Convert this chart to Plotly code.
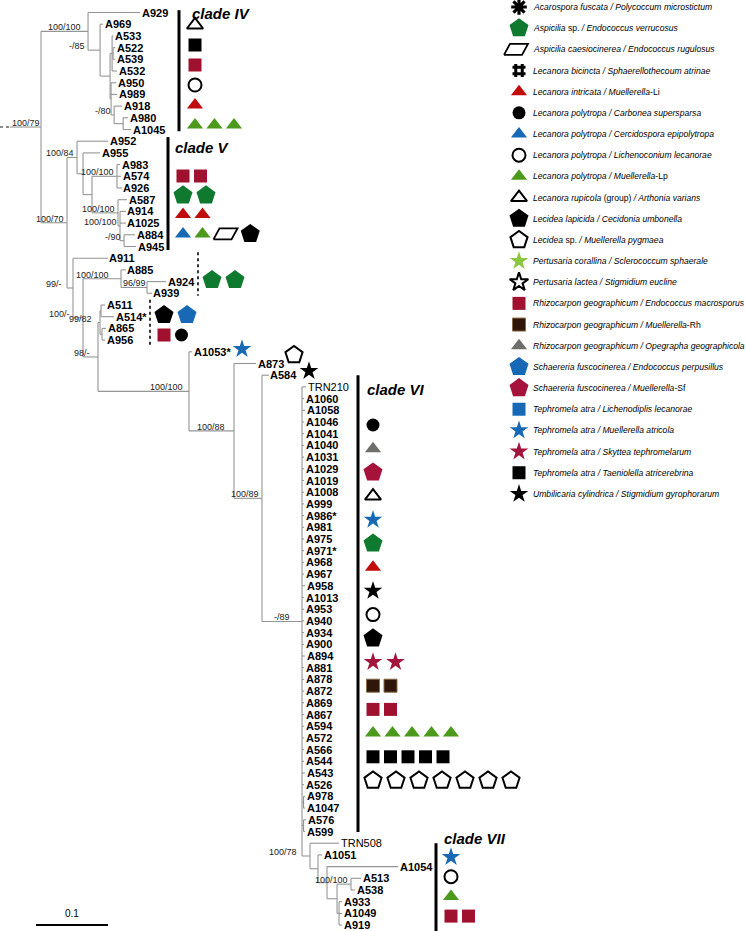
import plotly.graph_objects as go

# ============================== DATA ==============================
# Tree in Newick form: branch lengths in substitutions/site, internal node
# names are the support values (bootstrap / posterior) printed on the figure.
CLADE_IV = ("(A929:0.0722,(A969:0.0042,((A533:0.0014,(A522:0.0028,A539:0.0028):0.0014,"
            "A532:0.0069):0.0028,(A950:0.0069,A989:0.0083,(A918:0.0111,(A980:0.0069,"
            "A1045:0.0111):0.0125)-/80:0.0042):0.0014):0.0139)-/85:0.0167)100/100:0.0653")
CLADE_V = ("(A952:0.0431,(A955:0.0236,((A983:0.0042,A574:0.0056,A926:0.0069)100/100:0.0347,"
           "(A587:0.0125,(A914:0.0083,A1025:0.0083,(A884:0.0153,A945:0.0167)-/90:0.0056)"
           "100/100:0.0028)100/100:0.0361):0.0125):0.0083)100/84:0.0139")
CLADE_VI_NAMES = ["TRN210", "A1060", "A1058", "A1046", "A1041", "A1040", "A1031", "A1029",
                  "A1019", "A1008", "A999", "A986*", "A981", "A975", "A971*", "A968", "A967",
                  "A958", "A1013", "A953", "A940", "A934", "A900", "A894", "A881", "A878",
                  "A872", "A869", "A867", "A594", "A572", "A566", "A544", "A543", "A526"]
CLADE_VI_LENGTHS = [0.0056, 0.0028, 0.0042, 0.0028, 0.0028, 0.0028, 0.0028, 0.0028,
                    0.0028, 0.0028, 0.0028, 0.0028, 0.0028, 0.0028, 0.0028, 0.0028, 0.0028,
                    0.0042, 0.0028, 0.0028, 0.0028, 0.0028, 0.0028, 0.0042, 0.0028, 0.0028,
                    0.0028, 0.0028, 0.0028, 0.0028, 0.0028, 0.0028, 0.0028, 0.0042, 0.0028]
CLADE_VI_PAIRS = "(A978:0.0021,A1047:0.0021):0.0021,(A576:0.0035,A599:0.0021):0.0021"
CLADE_VII = ("(TRN508:0.0403,(A1051:0.0056,(A1054:0.0986,((A513:0.0139,A538:0.0056)"
             "100/100:0.0194,(A933:0.0042,A1049:0.0042,A919:0.0042):0.0028):0.0139)"
             ":0.0125):0.0111)100/78:0.0111")
BACKBONE = ("(A911:0.0486,((A885:0.0069,(A924:0.0264,A939:0.0069)96/99:0.0361)100/100:0.0528,"
            "(((A511:0.0056,A514*:0.0181):0.0014,(A865:0.0056,A956:0.0042):0.0028)99/82:0.0028,"
            "(A1053*:0.0042,(A873:0.0306,(A584:0.0097,({VI},{VII})-/89:0.0556)100/89:0.0389)"
            "100/88:0.0625)100/100:0.1264)98/-:0.0208)100/-:0.0139)99/-:0.0083")
SCALE_BAR_LENGTH = 0.1

REGULAR_TIPS = ["TRN210", "TRN508"]   # printed in regular (not bold) type

# host / lichenicolous fungus pairs (legend)
LEGEND_KEYS = ["ast", "pent_green", "para", "hash", "tri_red", "circ_black", "tri_blue",
               "circ_open", "tri_green", "tri_open", "pent_black", "pent_open", "star_lgreen",
               "star_open", "sq_red", "sq_brown", "tri_grey", "pent_blue", "pent_red",
               "sq_blue", "star_blue", "star_red", "sq_black", "star_black"]
LEGEND_LABELS = [
    "<i>Acarospora fuscata / Polycoccum microstictum</i>",
    "<i>Aspicilia</i> sp. <i>/ Endococcus verrucosus</i>",
    "<i>Aspicilia caesiocinerea / Endococcus rugulosus</i>",
    "<i>Lecanora bicincta / Sphaerellothecoum atrinae</i>",
    "<i>Lecanora intricata / Muellerella</i>-Li",
    "<i>Lecanora polytropa / Carbonea supersparsa</i>",
    "<i>Lecanora polytropa / Cercidospora epipolytropa</i>",
    "<i>Lecanora polytropa / Lichenoconium lecanorae</i>",
    "<i>Lecanora polytropa / Muellerella</i>-Lp",
    "<i>Lecanora rupicola</i> (group) <i>/ Arthonia varians</i>",
    "<i>Lecidea lapicida / Cecidonia umbonella</i>",
    "<i>Lecidea</i> sp. <i>/ Muellerella pygmaea</i>",
    "<i>Pertusaria corallina / Sclerococcum sphaerale</i>",
    "<i>Pertusaria lactea / Stigmidium eucline</i>",
    "<i>Rhizocarpon geographicum / Endococcus macrosporus</i>",
    "<i>Rhizocarpon geographicum / Muellerella</i>-Rh",
    "<i>Rhizocarpon geographicum / Opegrapha geographicola</i>",
    "<i>Schaereria fuscocinerea / Endococcus perpusillus</i>",
    "<i>Schaereria fuscocinerea / Muellerella</i>-Sf",
    "<i>Tephromela atra / Lichenodiplis lecanorae</i>",
    "<i>Tephromela atra / Muellerella atricola</i>",
    "<i>Tephromela atra / Skyttea tephromelarum</i>",
    "<i>Tephromela atra / Taeniolella atricerebrina</i>",
    "<i>Umbilicaria cylindrica / Stigmidium gyrophorarum</i>",
]

# host pairs recorded for each clade / group (one list per row)
HOSTS_IV = [["tri_open"], ["sq_black"], ["sq_red"], ["circ_open"], ["tri_red"],
            ["tri_green"] * 3]
HOSTS_V = [["sq_red"] * 2, ["pent_green"] * 2, ["tri_red"] * 2,
           ["tri_blue", "tri_green", "para", "pent_black"]]
HOSTS_A911 = [["pent_green"] * 2]
HOSTS_A511 = [["pent_black", "pent_blue"], ["sq_red", "circ_black"]]
HOSTS_A1053 = [["star_blue"]]
HOSTS_A873 = [["pent_open"]]
HOSTS_A584 = [["star_black"]]
HOSTS_VI = [["circ_black"], ["tri_grey"], ["pent_red"], ["tri_open"], ["star_blue"],
            ["pent_green"], ["tri_red"], ["star_black"], ["circ_open"], ["pent_black"],
            ["star_red"] * 2, ["sq_brown"] * 2, ["sq_red"] * 2, ["tri_green"] * 5,
            ["sq_black"] * 5, ["pent_open"] * 7]
HOSTS_VII = [["star_blue"], ["circ_open"], ["tri_green"], ["sq_red"] * 2]

CLADE_NAMES = ["clade IV", "clade V", "clade VI", "clade VII"]
CLADE_SPANS = [("A929", "A1045"), ("A952", "A945"), ("A911", "A939"), ("A511", "A956"),
               ("TRN210", "A599"), ("TRN508", "A919")]

# ============================== STYLE / LAYOUT ==============================
W, H = 746, 931
PX_PER_UNIT = 720.0          # 0.1 subst./site = 72 px
X_ORIGIN_PX = 10.0
Y_FIRST_PX, ROW_PX = 12.5, 11.7

TREE_COLOR = "#959595"
BLUE = "#1769b5"
SYM = {
    "ast": dict(symbol="asterisk-open", size=13, color="black", lw=3.2),
    "pent_green": dict(symbol="pentagon", size=20, color="#0f7a2f"),
    "hash": dict(symbol="hash-open", size=13, color="black", lw=3),
    "tri_red": dict(symbol="triangle-up", size=14, color="#c10c0c"),
    "circ_black": dict(symbol="circle", size=13, color="black"),
    "tri_blue": dict(symbol="triangle-up", size=14, color=BLUE),
    "circ_open": dict(symbol="circle-open", size=13, color="black", lw=2),
    "tri_green": dict(symbol="triangle-up", size=14, color="#4b9a1c"),
    "tri_open": dict(symbol="triangle-up-open", size=14, color="black", lw=2),
    "pent_black": dict(symbol="pentagon", size=20, color="black"),
    "pent_open": dict(symbol="pentagon-open", size=18, color="black", lw=2),
    "star_lgreen": dict(symbol="star", size=14, color="#8cc63e"),
    "star_open": dict(symbol="star-open", size=14, color="black", lw=2),
    "sq_red": dict(symbol="square", size=13, color="#a0102f"),
    "sq_brown": dict(symbol="square", size=13, color="#2e1708", lc="#8a6a48", lw=1),
    "tri_grey": dict(symbol="triangle-up", size=14, color="#6e6e6a"),
    "pent_blue": dict(symbol="pentagon", size=20, color=BLUE),
    "pent_red": dict(symbol="pentagon", size=20, color="#a5123a"),
    "sq_blue": dict(symbol="square", size=13, color=BLUE),
    "star_blue": dict(symbol="star", size=14, color=BLUE),
    "star_red": dict(symbol="star", size=14, color="#a3153d"),
    "sq_black": dict(symbol="square", size=13, color="black"),
    "star_black": dict(symbol="star", size=14, color="black"),
}
SYM_W = {"tri": 15, "sq": 13, "pent": 18.5, "star": 18, "circ": 13, "para": 22,
         "ast": 14, "hash": 13}
GAP = 4.5

# where each host group is drawn (pixel coords: first centre x, first row y, row step)
HOST_GROUPS = [
    (HOSTS_IV, 195, 25, 20.0),
    (HOSTS_V, 183, 176, 19.3),
    (HOSTS_A911, 212, 280, 0),
    (HOSTS_A511, 164, 315, 20.0),
    (HOSTS_A1053, 242, 349, 0),
    (HOSTS_A873, 294, 355, 0),
    (HOSTS_A584, 309, 371, 0),
    (HOSTS_VI, 373, 425, 23.7),
    (HOSTS_VII, 451, 857, 19.7),
]
# clade bars: x pixel, solid/dotted, padding (rows) top/bottom
BAR_STYLE = [(179, "solid", 0.2, 0.15), (168, "solid", 0.35, 0.3), (198, "dot", 0.5, 0.2),
             (150, "dot", 0.45, 0.6), (358, "solid", 1.0, 0.05), (436, "solid", 0.0, 1.0)]
CLADE_TITLE_POS = [(190, 13), (173, 147), (365, 389), (442, 838)]
LEGEND_X_SYM, LEGEND_X_TXT, LEGEND_Y0, LEGEND_DY = 519, 531, 7, 21.17
LEGEND_FONT = "Liberation Sans, Arial, sans-serif"
FONT = "Liberation Sans, Arial, sans-serif"
# extra horizontal nudge (px) for support labels, keyed by first leaf below the node
LABEL_NUDGE = {"A969": -12, "A911": -8, "A885": -10, "TRN508": -10, "A511": -5,
               "A1053*": 23}


# ============================== TREE ==============================
def parse_newick(s):
    s = s.strip().rstrip(";")
    pos = 0

    def node():
        nonlocal pos
        n = {"children": [], "name": "", "len": 0.0}
        if s[pos] == "(":
            pos += 1
            while True:
                n["children"].append(node())
                if s[pos] == ",":
                    pos += 1
                    continue
                if s[pos] == ")":
                    pos += 1
                    break
        start = pos
        while pos < len(s) and s[pos] not in ":,)":
            pos += 1
        n["name"] = s[start:pos]
        if pos < len(s) and s[pos] == ":":
            pos += 1
            start = pos
            while pos < len(s) and s[pos] not in ",)":
                pos += 1
            n["len"] = float(s[start:pos])
        return n

    return node()


clade_vi = ",".join(f"{n}:{l}" for n, l in zip(CLADE_VI_NAMES, CLADE_VI_LENGTHS)) + "," + CLADE_VI_PAIRS
backbone = BACKBONE.replace("{VI}", clade_vi).replace("{VII}", CLADE_VII)
TREE = "(" + CLADE_IV + ",(" + CLADE_V + "," + backbone + ")100/70:0.0361)100/79:0.0431;"
root = parse_newick(TREE)

leaves = []


def place(n, x0):
    n["x0"] = x0
    n["x"] = x0 + n["len"]
    if n["children"]:
        for c in n["children"]:
            place(c, n["x"])
        n["y"] = (n["children"][0]["y"] + n["children"][-1]["y"]) / 2.0
        n["first"] = n["children"][0]["first"]
    else:
        n["y"] = float(len(leaves))
        n["first"] = n["name"]
        leaves.append(n)


place(root, 0.0)
leaf_y = {lf["name"]: lf["y"] for lf in leaves}

seg_x, seg_y, internal = [], [], []


def collect(n):
    seg_x.extend([n["x0"], n["x"], None])
    seg_y.extend([n["y"], n["y"], None])
    if n["children"]:
        seg_x.extend([n["x"], n["x"], None])
        seg_y.extend([n["children"][0]["y"], n["children"][-1]["y"], None])
        if n["name"]:
            internal.append(n)
        for c in n["children"]:
            collect(c)


collect(root)

fig = go.Figure()
fig.add_trace(go.Scatter(x=seg_x, y=seg_y, mode="lines", line=dict(color=TREE_COLOR, width=1.1),
                         hoverinfo="skip", showlegend=False, xaxis="x", yaxis="y"))

annotations = []
for lf in leaves:
    name = lf["name"]
    txt = name if name in REGULAR_TIPS else f"<b>{name}</b>"
    annotations.append(dict(x=lf["x"], y=lf["y"], xref="x", yref="y", text=txt, showarrow=False,
                            xanchor="left", yanchor="middle", xshift=-0.5,
                            font=dict(family=FONT, size=11, color="black")))

CHAR_W = {"/": 0.278, "-": 0.333}


def label_width(t, size=9):
    return sum(CHAR_W.get(c, 0.556) for c in t) * size


for n in internal:
    branch_px = (n["x"] - n["x0"]) * PX_PER_UNIT
    wpx = label_width(n["name"])
    nudge = LABEL_NUDGE.get(n["first"], 0)
    if wpx + 2 <= branch_px:
        ax, anchor, shift = (n["x0"] + n["x"]) / 2, "center", nudge
    else:
        ax, anchor, shift = n["x"], "right", -1 + nudge
    annotations.append(dict(x=ax, y=n["y"], xref="x", yref="y", text=n["name"],
                            showarrow=False, xanchor=anchor, yanchor="bottom", xshift=shift,
                            yshift=-3, font=dict(family=FONT, size=9, color="#222")))

shapes = []
# dotted stub at root
shapes.append(dict(type="line", xref="x", yref="y", x0=-X_ORIGIN_PX / PX_PER_UNIT, x1=0,
                   y0=root["y"], y1=root["y"], line=dict(color="#666", width=1.5, dash="dot")))
# scale bar
sb_x0 = (36 - X_ORIGIN_PX) / PX_PER_UNIT
shapes.append(dict(type="line", xref="x", yref="y2", x0=sb_x0, x1=sb_x0 + SCALE_BAR_LENGTH,
                   y0=925, y1=925, line=dict(color="black", width=2)))
annotations.append(dict(x=sb_x0 + SCALE_BAR_LENGTH / 2, y=913, xref="x", yref="y2", text="0.1",
                        showarrow=False, font=dict(family=FONT, size=10, color="black")))

# clade bars
for (a, b), (bx, dash, pt, pb) in zip(CLADE_SPANS, BAR_STYLE):
    shapes.append(dict(type="line", xref="x2", yref="y", x0=bx, x1=bx,
                       y0=leaf_y[a] - pt, y1=leaf_y[b] + pb,
                       line=dict(color="black", width=3 if dash == "solid" else 1.6,
                                 dash=dash)))
for name, (tx, ty) in zip(CLADE_NAMES, CLADE_TITLE_POS):
    annotations.append(dict(x=tx, y=ty, xref="x2", yref="y2", text=f"<b><i>{name}</i></b>",
                            showarrow=False, xanchor="left", yanchor="middle",
                            font=dict(family=FONT, size=15, color="black")))


# host symbols
def kind(k):
    return k.split("_")[0]


points = {}


def add_point(k, x, y):
    points.setdefault(k, ([], []))
    points[k][0].append(x)
    points[k][1].append(y)


for rows, x_start, y_start, dy in HOST_GROUPS:
    for r, keys in enumerate(rows):
        x = x_start
        for i, k in enumerate(keys):
            if i > 0:
                x += (SYM_W[kind(keys[i - 1])] + SYM_W[kind(k)]) / 2 + GAP
            add_point(k, x, y_start + r * dy)

for i, k in enumerate(LEGEND_KEYS):
    y = LEGEND_Y0 + i * LEGEND_DY
    add_point(k, LEGEND_X_SYM - (3 if k == "para" else 0), y)
    annotations.append(dict(x=LEGEND_X_TXT, y=y, xref="x2", yref="y2", text=LEGEND_LABELS[i],
                            showarrow=False, xanchor="left", yanchor="middle",
                            font=dict(family=LEGEND_FONT, size=8.6, color="black")))

for k, (xs, ys) in points.items():
    if k == "para":
        px, py = [], []
        for cx, cy in zip(xs, ys):
            px += [cx - 12, cx + 6, cx + 12, cx - 6, cx - 12, None]
            py += [cy + 5.5, cy + 5.5, cy - 5.5, cy - 5.5, cy + 5.5, None]
        fig.add_trace(go.Scatter(x=px, y=py, mode="lines", line=dict(color="black", width=1.8),
                                 xaxis="x2", yaxis="y2", hoverinfo="skip", showlegend=False))
        continue
    s = SYM[k]
    marker = dict(symbol=s["symbol"], size=s["size"], color=s["color"],
                  line=dict(color=s.get("lc", s["color"]), width=s.get("lw", 0)))
    fig.add_trace(go.Scatter(x=xs, y=ys, mode="markers", marker=marker, xaxis="x2", yaxis="y2",
                             hoverinfo="skip", showlegend=False))

fig.update_layout(
    width=W, height=H, margin=dict(l=0, r=0, t=0, b=0, pad=0),
    paper_bgcolor="white", plot_bgcolor="white", showlegend=False,
    xaxis=dict(range=[-X_ORIGIN_PX / PX_PER_UNIT, (W - X_ORIGIN_PX) / PX_PER_UNIT],
               visible=False, domain=[0, 1], fixedrange=True),
    yaxis=dict(range=[(H - Y_FIRST_PX) / ROW_PX, -Y_FIRST_PX / ROW_PX], visible=False,
               domain=[0, 1], fixedrange=True),
    xaxis2=dict(range=[0, W], overlaying="x", anchor="y2", visible=False, fixedrange=True),
    yaxis2=dict(range=[H, 0], overlaying="y", anchor="x2", visible=False, fixedrange=True),
    annotations=annotations, shapes=shapes,
)

fig.write_html("out.html", config={"displayModeBar": False},
               post_script="document.body.style.margin='0';")
